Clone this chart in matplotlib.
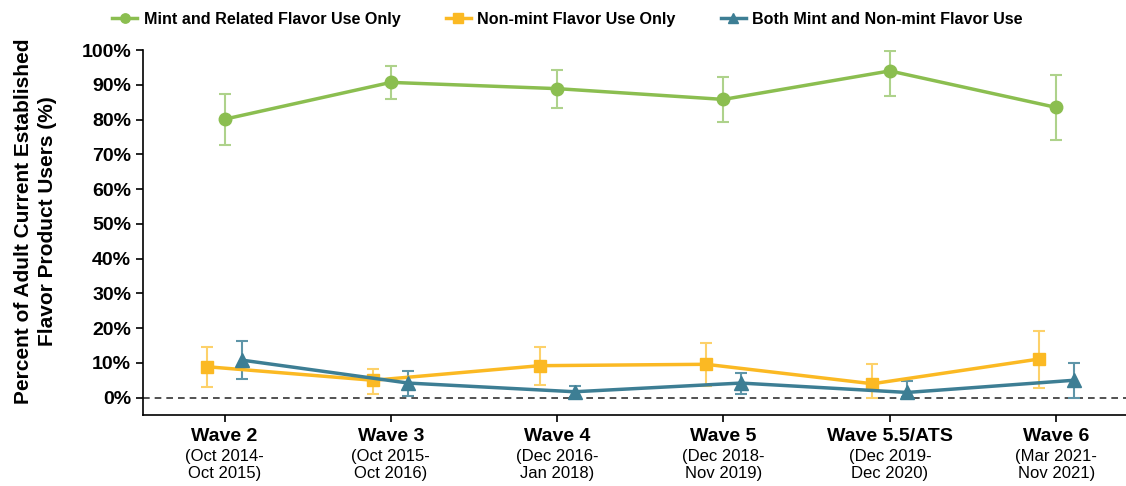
import matplotlib.pyplot as plt
import numpy as np

plt.rcParams['font.family'] = ['Liberation Sans', 'DejaVu Sans']

# data (percent)
waves = ['Wave 2', 'Wave 3', 'Wave 4', 'Wave 5', 'Wave 5.5/ATS', 'Wave 6']
periods = ['(Oct 2014-\nOct 2015)', '(Oct 2015-\nOct 2016)', '(Dec 2016-\nJan 2018)',
           '(Dec 2018-\nNov 2019)', '(Dec 2019-\nDec 2020)', '(Mar 2021-\nNov 2021)']

mint = [80.1, 90.7, 88.9, 85.8, 94.0, 83.5]
mint_lo = [72.8, 86.0, 83.4, 79.2, 86.9, 74.0]
mint_hi = [87.3, 95.3, 94.3, 92.3, 99.7, 92.9]

nonmint = [8.9, 5.0, 9.2, 9.6, 4.0, 11.1]
nonmint_lo = [3.1, 1.1, 3.6, 3.3, 0.0, 2.8]
nonmint_hi = [14.6, 8.2, 14.6, 15.6, 9.6, 19.2]

both = [10.8, 4.2, 1.7, 4.2, 1.5, 5.0]
both_lo = [5.5, 0.4, 0.3, 1.1, 0.1, 0.0]
both_hi = [16.2, 7.8, 3.4, 7.0, 4.8, 10.1]

fig = plt.figure(figsize=(11.26, 4.86), dpi=100)
ax = fig.add_axes([0.127, 0.146, 0.873, 0.751])

x = np.arange(len(waves))
off = 0.105

series = [
    ('Mint and Related Flavor Use Only', mint, mint_lo, mint_hi, 0, '#8BBE50', '#AED28B', 'o', 9),
    ('Non-mint Flavor Use Only', nonmint, nonmint_lo, nonmint_hi, -off, '#FBB923', '#FDD16A', 's', 9),
    ('Both Mint and Non-mint Flavor Use', both, both_lo, both_hi, off, '#3D7E94', '#5E95A8', '^', 10),
]

for name, v, lo, hi, dx, c, ec, m, ms in series:
    v = np.array(v)
    yerr = [v - np.array(lo), np.array(hi) - v]
    ax.errorbar(x + dx, v, yerr=yerr, fmt='none', ecolor=ec, elinewidth=1.5,
                capsize=4, capthick=1.5, zorder=2)
    ax.plot(x + dx, v, color=c, lw=2.5, marker=m, markersize=ms, label=name, zorder=3)

ax.axhline(0, color='#333333', lw=1.2, ls=(0, (4, 3)), zorder=1)

ax.set_xlim(-0.49, 5.42)
ax.set_ylim(-5, 100)
ax.set_yticks(np.arange(0, 101, 10))
ax.set_yticklabels([f'{t}%' for t in range(0, 101, 10)], fontsize=14, fontweight='bold')
ax.set_xticks(x)
ax.set_xticklabels([''] * len(x))
for i in x:
    ax.text(i, -0.036, waves[i], transform=ax.get_xaxis_transform(), ha='center', va='top',
            fontsize=14, fontweight='bold')
    ax.text(i, -0.093, periods[i], transform=ax.get_xaxis_transform(), ha='center', va='top',
            fontsize=12, linespacing=1.2)

ax.spines['top'].set_visible(False)
ax.spines['right'].set_visible(False)
ax.spines['left'].set_linewidth(1.2)
ax.spines['bottom'].set_linewidth(1.2)
ax.tick_params(axis='both', direction='out', length=5, width=1.2, colors='black')

ax.set_ylabel('Percent of Adult Current Established\nFlavor Product Users (%)',
              fontsize=15, fontweight='bold', labelpad=17, linespacing=1.35)
ax.yaxis.set_label_coords(-0.087, 0.53)

leg = fig.legend(loc='center', bbox_to_anchor=(0.504, 0.96), ncol=3, frameon=False,
                 handlelength=1.55, handletextpad=0.4, columnspacing=2.8, markerscale=0.75,
                 prop={'size': 11.6, 'weight': 'bold'})

fig.savefig('out.png', dpi=100)
